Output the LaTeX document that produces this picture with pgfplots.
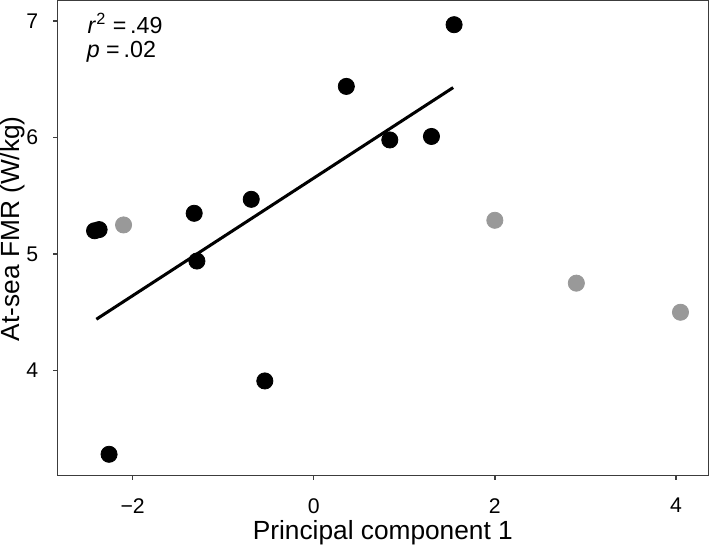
\documentclass[border=0pt]{standalone}
\usepackage{pgfplots}
\pgfplotsset{compat=1.18}
\usepackage{fontspec}
\setmainfont{Liberation Sans}

\definecolor{ptgrey}{RGB}{153,153,153}
\definecolor{framegrey}{RGB}{60,60,60}

\begin{document}
\begin{tikzpicture}
\begin{axis}[
  scale only axis,
  width=322pt,
  height=235pt,
  xmin=-2.83, xmax=4.357,
  ymin=3.096, ymax=7.176,
  xtick={-2,0,2,4},
  xticklabels={−2,0,2,4},
  ytick={4,5,6,7},
  tick pos=left,
  tick align=outside,
  major tick length=2pt,
  axis line style={framegrey, line width=0.7pt},
  tick style={framegrey, line width=0.7pt},
  /pgf/number format/assume math mode=true,
  ticklabel style={font=\fontsize{10.5}{12.5}\selectfont, inner sep=0pt},
  xticklabel style={anchor=north, yshift=-9pt},
  yticklabel style={anchor=east, xshift=-7.3pt},
  xlabel={Principal component 1},
  ylabel={At-sea FMR (W/kg)},
  label style={font=\fontsize{13}{15.6}\selectfont, inner sep=0pt},
  xlabel style={at={(axis description cs:0.5,-0.094)}, anchor=north},
  ylabel style={at={(axis description cs:-0.05,0.52)}, anchor=south},
  clip=false,
]

% fitted line over the black points
\addplot[black, line width=1.5pt, mark=none] coordinates {
  (-2.40,4.44) (1.54,6.43)
};

% points in the fit
\addplot[only marks, mark=*, mark size=4pt, black] coordinates {
  (-2.42,5.20) (-2.37,5.21) (-2.26,3.28) (-1.32,5.35) (-1.29,4.94)
  (-0.69,5.47) (-0.54,3.91) (0.36,6.44) (0.84,5.98) (1.30,6.01)
  (1.55,6.97)
};

% points left out
\addplot[only marks, mark=*, mark size=4pt, ptgrey, mark options={draw=ptgrey, fill=ptgrey}] coordinates {
  (-2.10,5.25) (2.00,5.29) (2.90,4.75) (4.05,4.50)
};

\node[anchor=base west, inner sep=0pt, font=\fontsize{11.5}{13}\selectfont]
  at (axis cs:-2.50,6.898) {\textit{r}\textsuperscript{2}~=\,.49};
\node[anchor=base west, inner sep=0pt, font=\fontsize{11.5}{13}\selectfont]
  at (axis cs:-2.51,6.69) {\textit{p}~=\,.02};

\end{axis}
\end{tikzpicture}
\end{document}
